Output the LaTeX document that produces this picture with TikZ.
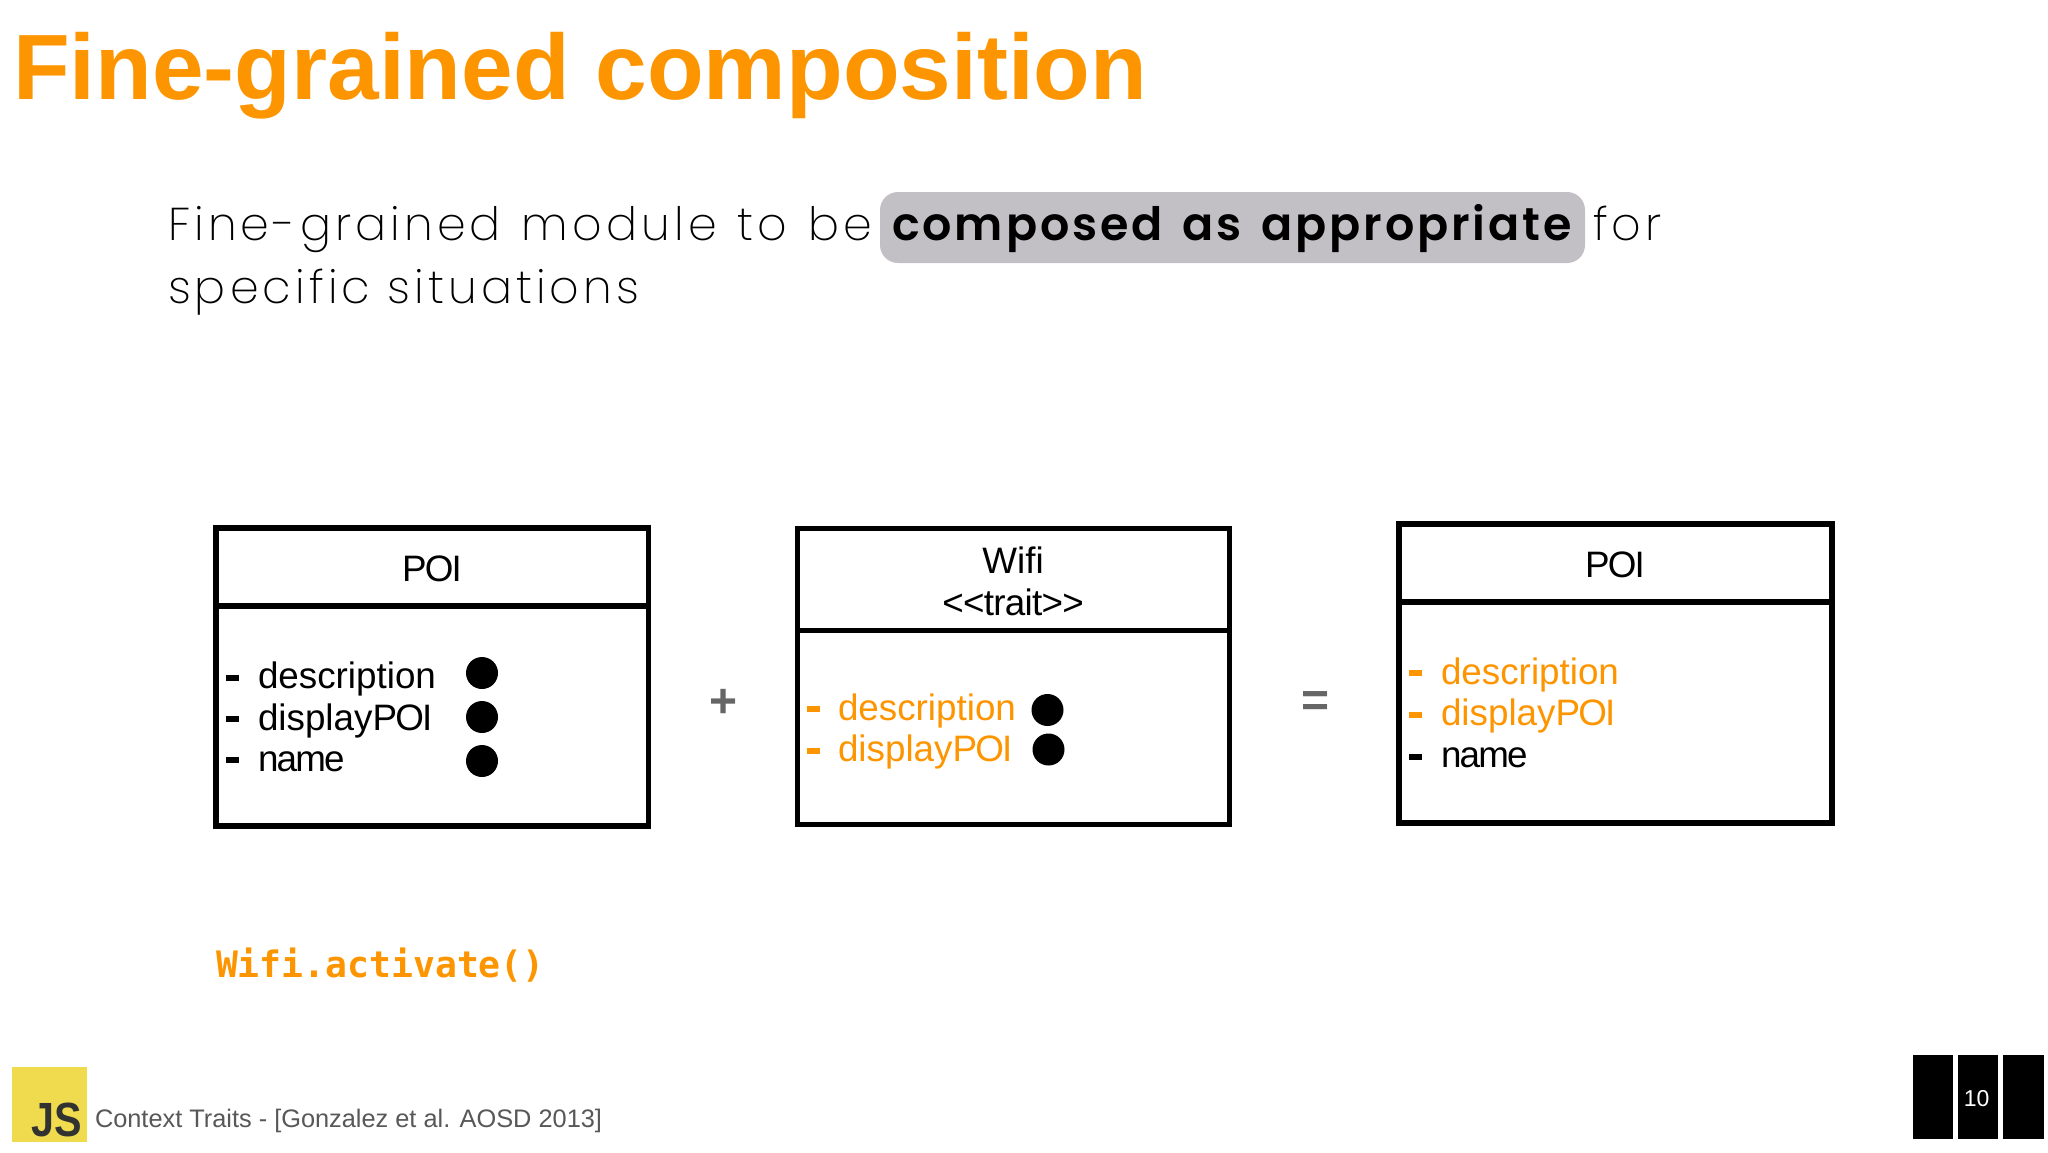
\documentclass[tikz,border=0pt]{standalone}
\usepackage{fontspec}
\setmainfont{Liberation Sans}
\newfontfamily\subfontw[LetterSpace=9,WordSpace=1.22]{Poppins ExtraLight}
\newfontfamily\subfont[LetterSpace=8.9,WordSpace=1.0]{Poppins ExtraLight}
\newfontfamily\subbold[LetterSpace=6.4,WordSpace=1.4]{Poppins SemiBold}
\newfontfamily\codefont{DejaVu Sans Mono}
\newfontfamily\jsfont[FakeStretch=0.86]{Liberation Sans}
\newcommand{\tight}{\addfontfeature{LetterSpace=-5}}
\definecolor{accent}{HTML}{FD9500}
\definecolor{hilite}{HTML}{C2C0C4}
\definecolor{jsyellow}{HTML}{F0DB4F}
\definecolor{jsdark}{HTML}{323330}
\definecolor{footgray}{HTML}{58585A}
\definecolor{opgray}{HTML}{666666}
\tikzset{
  txt/.style={inner sep=0pt,outer sep=0pt,anchor=base west},
  title/.style={txt,text=accent,font=\fontsize{46.4pt}{50pt}\selectfont\bfseries},
  lead/.style={txt,font=\fontsize{23pt}{28pt}\subfont},
  leadw/.style={txt,font=\fontsize{23pt}{28pt}\subfontw},
  leadb/.style={txt,font=\fontsize{23pt}{28pt}\subbold},
  part/.style={draw=black,line width=2.7pt,rectangle,inner sep=0pt,outer sep=0pt,anchor=north west},
  item/.style={txt,font=\fontsize{18.4pt}{21pt}\selectfont},
  head/.style={inner sep=0pt,outer sep=0pt,anchor=base,font=\fontsize{18.4pt}{21pt}\selectfont},
  dash/.style={fill=#1,draw=none,inner sep=0pt,outer sep=0pt,rectangle,minimum width=6.5pt,minimum height=2.6pt},
  dot/.style={fill=black,draw=none,circle,inner sep=0pt,outer sep=0pt,minimum size=16pt},
  op/.style={inner sep=0pt,outer sep=0pt,text=opgray,font=\fontsize{24pt}{24pt}\selectfont\bfseries},
  bar/.style={fill=black,draw=none,rectangle,inner sep=0pt,outer sep=0pt,anchor=north west},
}
\begin{document}
\begin{tikzpicture}[x=0.5pt,y=-0.5pt]
\path[use as bounding box,fill=white] (0,0) rectangle (2048,1152);
\node[title] (ttl) at (13,99) {Fine-grained composition};
% lead text
\node[fill=hilite,rounded corners=9pt,inner sep=0pt,outer sep=0pt,anchor=north west,minimum width=352.5pt,minimum height=35.5pt] (hl) at (880,192) {};
\node[leadw] (l1) at (168,240) {Fine-grained module to be};
\node[leadb] (l2) at (892,240) {composed as appropriate};
\node[lead] (l3) at (1593,240) {for};
\node[lead] (l4) at (168,303) {specific situations};
% box 1
\node[part,minimum width=216.25pt,minimum height=39pt] (h1) at (216,528) {};
\node[part,minimum width=216.25pt,minimum height=110pt] (b1) at (216,606) {};
\node[head] (n1) at (432,581) {\tight POI};
\node[dash=black] (d1a) at (232.5,678) {};
\node[dash=black] (d1b) at (232.5,719) {};
\node[dash=black] (d1c) at (232.5,760) {};
\node[item] (t1a) at (258,688.5) {description};
\node[item] (t1b) at (258,730.5) {display{\tight POI}};
\node[item] (t1c) at (258,771.5) {\tight name};
\node[dot] (c1a) at (482,673) {};
\node[dot] (c1b) at (482,717) {};
\node[dot] (c1c) at (482,761) {};
% plus
\node[op] (plus) at (724,703) {+};
% box 2
\node[part,minimum width=216pt,minimum height=51pt] (h2) at (797.5,528.5) {};
\node[part,minimum width=216pt,minimum height=97pt] (b2) at (797.5,630.5) {};
\node[head] (n2) at (1013,573) {Wifi};
\node[head] (n2b) at (1013,615.5) {\addfontfeature{LetterSpace=-2}<{}<trait>{}>};
\node[dash=accent] (d2a) at (813,709) {};
\node[dash=accent] (d2b) at (813,751) {};
\node[item,text=accent] (t2a) at (838,720.5) {description};
\node[item,text=accent] (t2b) at (838,761.5) {display{\tight POI}};
\node[dot] (c2a) at (1047.5,710) {};
\node[dot] (c2b) at (1048.5,749.5) {};
% equals
\node[op] (eq) at (1315,704) {=};
% box 3
\node[part,minimum width=216.5pt,minimum height=39pt] (h3) at (1399,524) {};
\node[part,minimum width=216.5pt,minimum height=110.5pt] (b3) at (1399,602) {};
\node[head] (n3) at (1615,577) {\tight POI};
\node[dash=accent] (d3a) at (1415.5,673) {};
\node[dash=accent] (d3b) at (1415.5,715) {};
\node[dash=black] (d3c) at (1415.5,757) {};
\node[item,text=accent] (t3a) at (1441,684) {description};
\node[item,text=accent] (t3b) at (1441,725) {display{\tight POI}};
\node[item] (t3c) at (1441,767) {\tight name};
% code
\node[txt,text=accent,font=\fontsize{18.2pt}{20pt}\codefont\bfseries] (code) at (216,977) {Wifi.activate()};
% footer
\node[fill=jsyellow,rectangle,inner sep=0pt,outer sep=0pt,anchor=north west,minimum width=37.5pt,minimum height=37.5pt] (logo) at (12,1067) {};
\node[txt,text=jsdark,font=\fontsize{24pt}{24pt}\jsfont\bfseries] (js) at (32,1136) {JS};
\node[txt,text=footgray,font=\fontsize{12.67pt}{15pt}\selectfont] (foot) at (95,1127) {Context Traits - [Gonzalez et al. AOSD 2013]};
% page blocks
\node[bar,minimum width=20pt,minimum height=42pt] (p1) at (1913,1055) {};
\node[bar,minimum width=20pt,minimum height=42pt] (p2) at (1958,1055) {};
\node[bar,minimum width=20.5pt,minimum height=42pt] (p3) at (2003,1055) {};
\node[inner sep=0pt,text=white,font=\fontsize{11.5pt}{14pt}\selectfont,xshift=-0.7pt,yshift=-1pt] (pg) at (p2.center) {10};
\end{tikzpicture}
\end{document}
